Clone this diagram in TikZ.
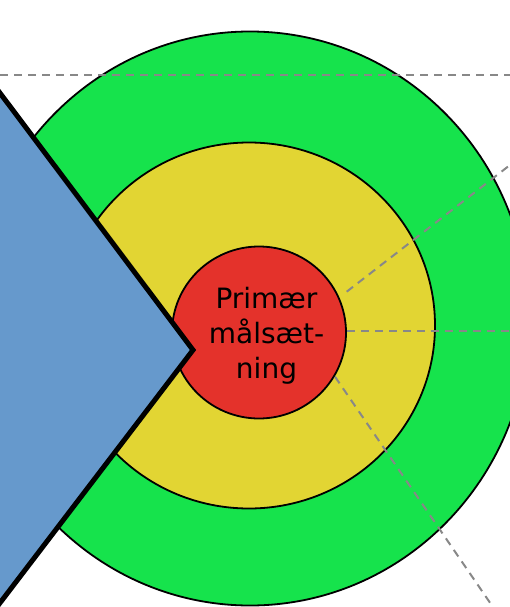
\documentclass[tikz,border=0pt]{standalone}
\usepackage{fontspec}
\setmainfont{DejaVu Sans}
\usepackage{tikz}
\usetikzlibrary{positioning,calc}
\definecolor{ringgreen}{RGB}{22,227,76}
\definecolor{ringyellow}{RGB}{226,213,51}
\definecolor{ringred}{RGB}{228,50,43}
\definecolor{wedgeblue}{RGB}{102,153,204}
\definecolor{guidegray}{RGB}{136,136,136}

\begin{document}
\begin{tikzpicture}[x=1pt,y=-1pt,
            ring/.style={draw=black, line width=1.8pt, fill=#1},
            guide/.style={draw=guidegray, line width=2pt, dash pattern=on 8pt off 6pt},
            wedge/.style={draw=black, line width=5pt, fill=wedgeblue, miter limit=10}]

            \useasboundingbox (0,0) rectangle (510,607);

            % Rings
            \draw[ring=ringgreen] (250,318.5) ellipse [x radius=279, y radius=287];
            \draw[ring=ringyellow] (249,325.5) ellipse [x radius=186, y radius=183];
            \draw[ring=ringred] (259,332.5) ellipse [x radius=87, y radius=86];

            % Guide lines
            \coordinate (topleft) at (0,75);
            \coordinate (topright) at (510,75);
            \coordinate (upstart) at (346.7,291.7);
            \coordinate (upend) at (510,165);
            \coordinate (midstart) at (347,330.5);
            \coordinate (midend) at (510,330.5);
            \coordinate (downstart) at (335,376.7);
            \coordinate (downend) at (495,610);

            \draw[guide] (topleft) -- (topright);
            \draw[guide] (upstart) -- (upend);
            \draw[guide] (midstart) -- (midend);
            \draw[guide] (downstart) -- (downend);

            % Goal text
            \node[align=center, inner sep=0pt, font=\fontsize{28}{35}\selectfont] (goal) at (266.5,336) {Primær\\målsæt-\\ning};

            % Wedge
            \draw[wedge] (-10,79.7) -- (193,350) -- (-10,616) -- cycle;
        \end{tikzpicture}
\end{document}
